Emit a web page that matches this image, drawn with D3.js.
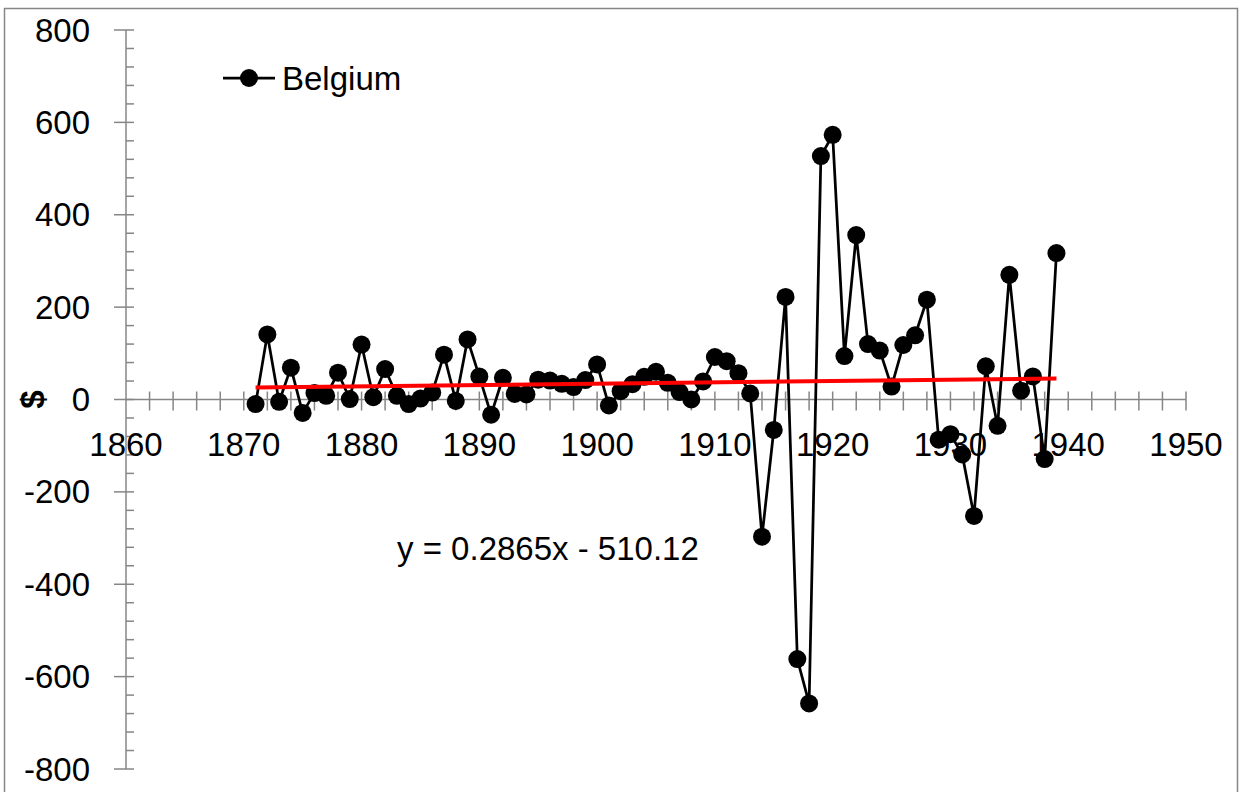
<!DOCTYPE html>
<html>
<head>
<meta charset="utf-8">
<script src="https://cdn.jsdelivr.net/npm/d3@7"></script>
<style>
  html, body { margin: 0; padding: 0; background: #fff; }
  svg { display: block; }
  text { font-family: "Liberation Sans", Arial, sans-serif; fill: #000; }
</style>
</head>
<body>
<svg id="chart" width="1240" height="792"></svg>
<script>
// ---- data ----
const years = [1871,1872,1873,1874,1875,1876,1877,1878,1879,1880,
               1881,1882,1883,1884,1885,1886,1887,1888,1889,1890,
               1891,1892,1893,1894,1895,1896,1897,1898,1899,1900,
               1901,1902,1903,1904,1905,1906,1907,1908,1909,1910,
               1911,1912,1913,1914,1915,1916,1917,1918,1919,1920,
               1921,1922,1923,1924,1925,1926,1927,1928,1929,1930,
               1931,1932,1933,1934,1935,1936,1937,1938,1939];
const belgium = [-10,141,-5,69,-29,14,8,58,1,119,
                 5,66,8,-10,2,15,97,-3,130,50,
                 -33,47,12,11,43,41,34,27,42,76,
                 -13,18,33,49,60,36,16,0,39,92,
                 83,57,13,-297,-66,222,-562,-658,527,573,
                 94,356,120,106,28,118,139,216,-87,-75,
                 -119,-252,72,-57,270,19,50,-129,317];
const seriesName = "Belgium";
const trendSlope = 0.2865;
const trendIntercept = -510.12;
const trendLabel = "y = 0.2865x - 510.12";
const xTicks = [1860,1870,1880,1890,1900,1910,1920,1930,1940,1950];
const yTicks = [-800,-600,-400,-200,0,200,400,600,800];
const yTitle = "$";

// ---- layout ----
const svg = d3.select("#chart");
const x = d3.scaleLinear().domain([1860, 1950]).range([126, 1186]);
const y = d3.scaleLinear().domain([-800, 800]).range([769, 30]);
const axisColor = "#868686";
const fontSize = 33;

// outer border
svg.append("rect").attr("x", 4.5).attr("y", 8.5).attr("width", 1233).attr("height", 800)
  .attr("fill", "none").attr("stroke", axisColor).attr("stroke-width", 1.5);

// Y axis
const yAxisX = x(1860);
svg.append("line").attr("x1", yAxisX).attr("x2", yAxisX).attr("y1", y(800)).attr("y2", y(-800))
  .attr("stroke", axisColor).attr("stroke-width", 1.5);
const yMinor = d3.range(-800, 801, 40).filter(v => v % 200 !== 0);
svg.selectAll(".yminor").data(yMinor).enter().append("line")
  .attr("x1", yAxisX).attr("x2", yAxisX + 8)
  .attr("y1", d => y(d)).attr("y2", d => y(d))
  .attr("stroke", axisColor).attr("stroke-width", 1.5);
svg.selectAll(".ymajor").data(yTicks).enter().append("line")
  .attr("x1", yAxisX - 12).attr("x2", yAxisX + 8)
  .attr("y1", d => y(d)).attr("y2", d => y(d))
  .attr("stroke", axisColor).attr("stroke-width", 1.5);
svg.selectAll(".ylabel").data(yTicks).enter().append("text")
  .attr("x", 90).attr("y", d => y(d))
  .attr("text-anchor", "end").attr("dominant-baseline", "central")
  .attr("font-size", fontSize).text(d => d);

// Y title
svg.append("text")
  .attr("transform", `translate(32,${y(0)}) rotate(-90)`)
  .attr("text-anchor", "middle").attr("dominant-baseline", "central")
  .attr("font-size", fontSize).attr("font-weight", "bold").text(yTitle);

// X axis at y=0
const xAxisY = y(0);
svg.append("line").attr("x1", x(1860)).attr("x2", x(1950)).attr("y1", xAxisY).attr("y2", xAxisY)
  .attr("stroke", axisColor).attr("stroke-width", 1.5);
const xAll = d3.range(1862, 1951, 2);
svg.selectAll(".xtick").data(xAll).enter().append("line")
  .attr("x1", d => x(d)).attr("x2", d => x(d))
  .attr("y1", xAxisY - 8).attr("y2", xAxisY + 11)
  .attr("stroke", axisColor).attr("stroke-width", 1.5);
svg.selectAll(".xlabel").data(xTicks).enter().append("text")
  .attr("x", d => x(d)).attr("y", xAxisY + 45)
  .attr("text-anchor", "middle").attr("dominant-baseline", "central")
  .attr("font-size", fontSize).text(d => d);

// series line
const pts = years.map((yr, i) => [yr, belgium[i]]);
svg.append("path").datum(pts)
  .attr("d", d3.line().x(d => x(d[0])).y(d => y(d[1])))
  .attr("fill", "none").attr("stroke", "#000").attr("stroke-width", 2.75)
  .attr("stroke-linejoin", "round");
svg.selectAll(".pt").data(pts).enter().append("circle")
  .attr("cx", d => x(d[0])).attr("cy", d => y(d[1])).attr("r", 9)
  .attr("fill", "#000");

// trend line
const x0 = years[0], x1 = years[years.length - 1];
svg.append("line")
  .attr("x1", x(x0)).attr("y1", y(trendSlope * x0 + trendIntercept))
  .attr("x2", x(x1)).attr("y2", y(trendSlope * x1 + trendIntercept))
  .attr("stroke", "#ff0000").attr("stroke-width", 4);

// trend label
svg.append("text").attr("x", 397).attr("y", 548)
  .attr("dominant-baseline", "central").attr("font-size", fontSize).text(trendLabel);

// legend
svg.append("line").attr("x1", 223).attr("x2", 275).attr("y1", 78).attr("y2", 78)
  .attr("stroke", "#000").attr("stroke-width", 2.75);
svg.append("circle").attr("cx", 249).attr("cy", 78).attr("r", 9).attr("fill", "#000");
svg.append("text").attr("x", 282).attr("y", 78)
  .attr("dominant-baseline", "central").attr("font-size", fontSize).text(seriesName);
</script>
</body>
</html>
